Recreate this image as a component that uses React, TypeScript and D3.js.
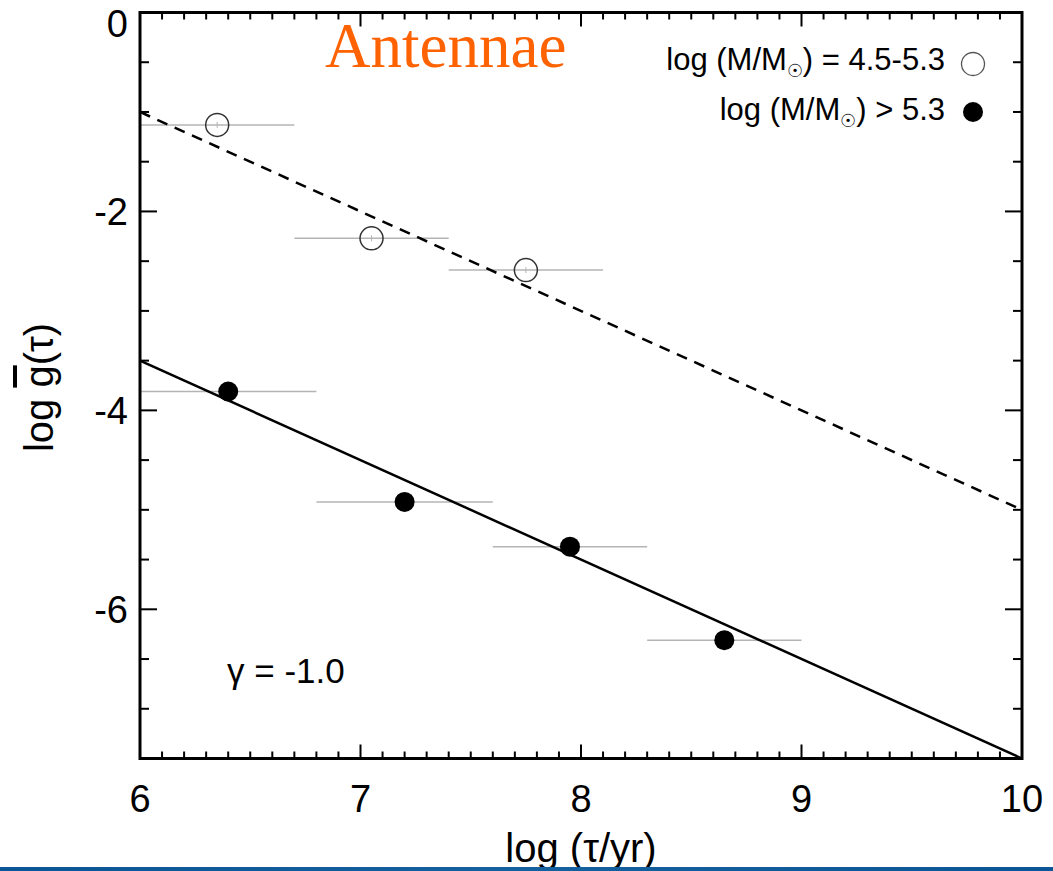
import React from "react";
import * as d3 from "d3";

const openX = [6.35, 7.05, 7.75];
const openY = [-1.13, -2.27, -2.59];
const openXLo = [6.0, 6.7, 7.4];
const openXHi = [6.7, 7.4, 8.1];

const fillX = [6.4, 7.2, 7.95, 8.65];
const fillY = [-3.81, -4.92, -5.37, -6.31];
const fillXLo = [6.0, 6.8, 7.6, 8.3];
const fillXHi = [6.8, 7.6, 8.3, 9.0];

const solidFitX = [6, 10];
const solidFitY = [-3.5, -7.5];
const dashFitX = [6, 10];
const dashFitY = [-1.0, -5.0];

const xTicks = [6, 7, 8, 9, 10];
const yTicks = [0, -2, -4, -6];

const W = 1053, H = 871;
const L = 140, R = 1022, T = 12.5, B = 758.5;

export default function App() {
  const x = d3.scaleLinear().domain([6, 10]).range([L, R]);
  const y = d3.scaleLinear().domain([0, -7.5]).range([T, B]);
  const line = d3.line<[number, number]>().x(d => x(d[0])).y(d => y(d[1]));

  const xMinor = d3.range(60, 101).map(v => v / 10).filter(v => !xTicks.includes(v));
  const yMinor = d3.range(0, -7.51, -0.5).filter(v => !yTicks.includes(v));

  const font = "'Liberation Sans', Arial, Helvetica, sans-serif";
  const errColor = "#b4b4b4";

  return (
    <svg width={W} height={H} style={{ position: "absolute", left: 0, top: 0, background: "#fff" }}>
      <defs>
        <clipPath id="plot">
          <rect x={L} y={T} width={R - L} height={B - T} />
        </clipPath>
        <linearGradient id="bar" x1="0" x2="1" y1="0" y2="0">
          <stop offset="0" stopColor="#0b5596" />
          <stop offset="0.5" stopColor="#15609f" />
          <stop offset="1" stopColor="#0b5596" />
        </linearGradient>
      </defs>
      <rect x={0} y={0} width={W} height={H} fill="#fff" />

      <g clipPath="url(#plot)">
        {openX.map((v, i) => (
          <g key={"oe" + i}>
            <line x1={x(openXLo[i])} x2={x(openXHi[i])} y1={y(openY[i])} y2={y(openY[i])} stroke={errColor} strokeWidth={1.5} />
            <line x1={x(v)} x2={x(v)} y1={y(openY[i]) - 3} y2={y(openY[i]) + 3} stroke={errColor} strokeWidth={1} />
          </g>
        ))}
        {fillX.map((v, i) => (
          <line key={"fe" + i} x1={x(fillXLo[i])} x2={x(fillXHi[i])} y1={y(fillY[i])} y2={y(fillY[i])} stroke={errColor} strokeWidth={1.5} />
        ))}
        <path d={line(solidFitX.map((v, i) => [v, solidFitY[i]]) as any) || ""} fill="none" stroke="#000" strokeWidth={2.5} />
        <path d={line(dashFitX.map((v, i) => [v, dashFitY[i]]) as any) || ""} fill="none" stroke="#000" strokeWidth={2.5} strokeDasharray="11 8" />
        {openX.map((v, i) => (
          <circle key={"o" + i} cx={x(v)} cy={y(openY[i])} r={11.5} fill="none" stroke="#333" strokeWidth={1.5} />
        ))}
        {fillX.map((v, i) => (
          <circle key={"f" + i} cx={x(v)} cy={y(fillY[i])} r={10} fill="#000" />
        ))}
      </g>

      <rect x={L} y={T} width={R - L} height={B - T} fill="none" stroke="#000" strokeWidth={3} />
      {xTicks.map(v => (
        <g key={"xt" + v}>
          <line x1={x(v)} x2={x(v)} y1={B} y2={B - 14} stroke="#000" strokeWidth={2} />
          <line x1={x(v)} x2={x(v)} y1={T} y2={T + 14} stroke="#000" strokeWidth={2} />
          <text x={x(v)} y={812} textAnchor="middle" fontFamily={font} fontSize={38} fill="#000">{v}</text>
        </g>
      ))}
      {xMinor.map(v => (
        <g key={"xm" + v}>
          <line x1={x(v)} x2={x(v)} y1={B} y2={B - 7} stroke="#000" strokeWidth={2} />
          <line x1={x(v)} x2={x(v)} y1={T} y2={T + 7} stroke="#000" strokeWidth={2} />
        </g>
      ))}
      {yTicks.map(v => (
        <g key={"yt" + v}>
          <line x1={L} x2={L + 17} y1={y(v)} y2={y(v)} stroke="#000" strokeWidth={2} />
          <line x1={R} x2={R - 17} y1={y(v)} y2={y(v)} stroke="#000" strokeWidth={2} />
          <text x={128} y={Math.max(y(v), 23.5)} dy="0.36em" textAnchor="end" fontFamily={font} fontSize={38} fill="#000">{v === 0 ? "0" : "-" + Math.abs(v)}</text>
        </g>
      ))}
      {yMinor.map(v => (
        <g key={"ym" + v}>
          <line x1={L} x2={L + 9} y1={y(v)} y2={y(v)} stroke="#000" strokeWidth={2} />
          <line x1={R} x2={R - 9} y1={y(v)} y2={y(v)} stroke="#000" strokeWidth={2} />
        </g>
      ))}

      <text x={(L + R) / 2} y={862} textAnchor="middle" fontFamily={font} fontSize={40} fill="#000">log (τ/yr)</text>
      <text transform={`translate(53, ${(T + B) / 2 + 2}) rotate(-90)`} textAnchor="middle" fontFamily={font} fontSize={40} fill="#000">
        log <tspan style={{ textDecoration: "overline" }}>g</tspan>(τ)
      </text>

      <text x={325} y={67} fontFamily="'Liberation Serif', 'Times New Roman', serif" fontSize={63} fill="#ff6200">Antennae</text>

      <text x={945} y={70} textAnchor="end" fontFamily={font} fontSize={31} fill="#000">
        log (M/M<tspan fontSize={18} dy={7}>☉</tspan><tspan dy={-7}>) = 4.5-5.3</tspan>
      </text>
      <circle cx={973} cy={64} r={11.5} fill="none" stroke="#555" strokeWidth={1.3} />
      <text x={945} y={120} textAnchor="end" fontFamily={font} fontSize={31} fill="#000">
        log (M/M<tspan fontSize={18} dy={7}>☉</tspan><tspan dy={-7}>) &gt; 5.3</tspan>
      </text>
      <circle cx={973} cy={112} r={10} fill="#000" />

      <text x={227} y={683} fontFamily={font} fontSize={35} fill="#000">γ = -1.0</text>

      <rect x={0} y={867} width={W} height={4} fill="url(#bar)" />
    </svg>
  );
}
